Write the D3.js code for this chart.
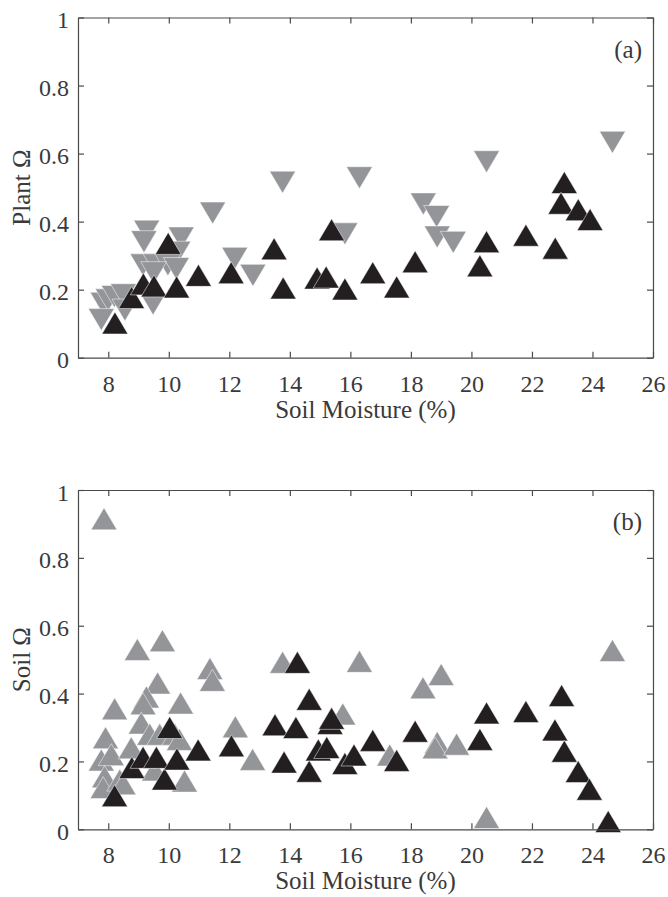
<!DOCTYPE html>
<html>
<head>
<meta charset="utf-8">
<script src="https://cdn.jsdelivr.net/npm/d3@7"></script>
<style>
  body { margin: 0; background: #fff; }
  svg { display: block; }
</style>
</head>
<body>
<svg></svg>
<script>
var screen = {width: 668, height: 897}
var serif = "Liberation Serif"

// x ticks / y ticks
var xTicks = [8, 10, 12, 14, 16, 18, 20, 22, 24, 26]
var yTicks = [0, 0.2, 0.4, 0.6, 0.8, 1]

// panel (a) plant omega - gray (down triangles)
var plantGray = [
  [13.76, 0.516], [11.45, 0.425], [9.27, 0.372], [9.18, 0.341], [10.41, 0.352],
  [10.3, 0.31], [12.18, 0.292], [12.78, 0.242], [9.15, 0.273], [9.58, 0.273],
  [9.97, 0.273], [10.25, 0.262], [9.5, 0.25], [9.48, 0.158], [7.83, 0.16],
  [8.0, 0.17], [8.2, 0.18], [8.5, 0.185], [7.77, 0.112], [8.55, 0.14],
  [16.3, 0.529], [15.82, 0.364], [18.41, 0.452], [18.85, 0.415], [18.87, 0.355],
  [19.4, 0.339], [20.5, 0.576], [24.66, 0.633]
]
// panel (a) plant omega - black (up triangles)
var plantBlack = [
  [8.22, 0.102], [8.77, 0.177], [9.16, 0.217], [9.51, 0.211], [9.98, 0.336],
  [10.26, 0.208], [10.98, 0.242], [12.06, 0.25], [13.48, 0.32], [13.78, 0.205],
  [14.9, 0.234], [15.2, 0.237], [15.38, 0.376], [15.82, 0.202], [16.74, 0.25],
  [17.53, 0.208], [18.14, 0.282], [20.28, 0.27], [20.5, 0.341], [21.8, 0.36],
  [22.77, 0.322], [23.07, 0.515], [22.96, 0.454], [23.53, 0.435], [23.92, 0.406]
]
// panel (b) soil omega - gray (up triangles)
var soilGray = [
  [7.86, 0.915], [8.96, 0.53], [9.79, 0.556], [11.36, 0.474], [11.44, 0.439],
  [9.63, 0.431], [9.26, 0.39], [9.15, 0.37], [10.39, 0.372], [8.21, 0.355],
  [12.2, 0.302], [7.91, 0.27], [9.09, 0.313], [9.37, 0.28], [9.7, 0.28],
  [10.2, 0.28], [10.35, 0.265], [12.77, 0.206], [10.52, 0.142], [9.53, 0.175],
  [7.77, 0.204], [8.1, 0.22], [7.88, 0.155], [7.83, 0.123], [8.38, 0.145],
  [8.49, 0.134], [8.76, 0.24], [13.76, 0.492], [16.3, 0.495], [15.75, 0.34],
  [17.3, 0.219], [18.4, 0.417], [19.0, 0.456], [18.87, 0.256], [18.8, 0.24],
  [19.51, 0.251], [24.66, 0.527], [20.5, 0.035]
]
// panel (b) soil omega - black (up triangles)
var soilBlack = [
  [8.21, 0.099], [8.78, 0.182], [9.15, 0.212], [9.59, 0.212], [9.86, 0.148],
  [10.03, 0.30], [10.27, 0.207], [10.97, 0.234], [12.07, 0.246], [13.51, 0.308],
  [13.81, 0.198], [14.2, 0.30], [14.25, 0.492], [14.64, 0.383], [14.64, 0.171],
  [14.94, 0.234], [15.22, 0.241], [15.33, 0.312], [15.38, 0.327], [15.82, 0.194],
  [16.12, 0.219], [16.74, 0.262], [17.53, 0.203], [18.14, 0.289], [20.28, 0.265],
  [20.5, 0.343], [21.8, 0.347], [22.76, 0.293], [22.98, 0.394], [23.07, 0.23],
  [23.53, 0.17], [23.9, 0.118], [24.52, 0.023]
]

var svg = d3.select("svg")
    .attr("width", screen.width)
    .attr("height", screen.height)
    .attr("font-family", serif)

var left = 78, right = 653
var xScale = d3.scaleLinear().domain([7, 26]).range([left, right])

var gray = "#939598"
var black = "#231f20"
var axisColor = "#4a4a4a"
var textColor = "#3a3a3a"

var upTri = function(x, y) {
    return "M" + x + "," + (y - 11) + "L" + (x + 13) + "," + (y + 11) + "L" + (x - 13) + "," + (y + 11) + "Z"
}
var downTri = function(x, y) {
    return "M" + (x - 13) + "," + (y - 11) + "L" + (x + 13) + "," + (y - 11) + "L" + x + "," + (y + 11) + "Z"
}

var drawPanel = function(top, bottom, yLabel, tag, grayData, blackData, grayShape)
{
    var yScale = d3.scaleLinear().domain([0, 1]).range([bottom, top])
    var g = svg.append("g")

    // markers: gray first, black on top
    g.append("g").selectAll("path")
        .data(grayData)
        .enter()
        .append("path")
        .attr("d", function(d) { return grayShape(xScale(d[0]), yScale(d[1])) })
        .attr("fill", gray)
        .attr("stroke", "#fff")
        .attr("stroke-width", 0.5)

    g.append("g").selectAll("path")
        .data(blackData)
        .enter()
        .append("path")
        .attr("d", function(d) { return upTri(xScale(d[0]), yScale(d[1])) })
        .attr("fill", black)
        .attr("stroke", "#fff")
        .attr("stroke-width", 0.5)

    var fmt = function(d) { return String(d) }

    g.append("g")
        .attr("transform", "translate(0," + bottom + ")")
        .call(d3.axisBottom(xScale).tickValues(xTicks).tickSizeInner(-6).tickSizeOuter(0).tickPadding(17).tickFormat(fmt))
    g.append("g")
        .attr("transform", "translate(0," + top + ")")
        .call(d3.axisTop(xScale).tickValues(xTicks).tickSizeInner(-6).tickSizeOuter(0).tickFormat(""))
    var leftAxis = g.append("g")
        .attr("transform", "translate(" + left + ",0)")
        .call(d3.axisLeft(yScale).tickValues(yTicks).tickSizeInner(-6).tickSizeOuter(0).tickPadding(9).tickFormat(fmt))
    g.append("g")
        .attr("transform", "translate(" + right + ",0)")
        .call(d3.axisRight(yScale).tickValues(yTicks).tickSizeInner(-6).tickSizeOuter(0).tickFormat(""))

    g.selectAll("g").attr("font-family", serif).attr("font-size", 24)
    g.selectAll(".domain, .tick line")
        .attr("stroke", axisColor)
        .attr("stroke-width", 1.2)
    g.selectAll(".tick text")
        .attr("font-family", serif)
        .attr("font-size", 24)
        .attr("fill", textColor)
    leftAxis.selectAll(".tick text").attr("dy", "0.42em")

    // axis titles
    g.append("text")
        .attr("x", (left + right) / 2)
        .attr("y", bottom + 60)
        .attr("text-anchor", "middle")
        .attr("font-family", serif)
        .attr("font-size", 25)
        .attr("fill", textColor)
        .text("Soil Moisture (%)")

    g.append("text")
        .attr("transform", "translate(30," + ((top + bottom) / 2) + ")rotate(-90)")
        .attr("text-anchor", "middle")
        .attr("font-family", serif)
        .attr("font-size", 25)
        .attr("fill", textColor)
        .text(yLabel)

    g.append("text")
        .attr("x", right - 11)
        .attr("y", top + 40)
        .attr("text-anchor", "end")
        .attr("font-family", serif)
        .attr("font-size", 25)
        .attr("fill", textColor)
        .text(tag)
}

drawPanel(17.5, 357.7, "Plant Ω", "(a)", plantGray, plantBlack, downTri)
drawPanel(490, 829.3, "Soil Ω", "(b)", soilGray, soilBlack, upTri)
</script>
</body>
</html>
